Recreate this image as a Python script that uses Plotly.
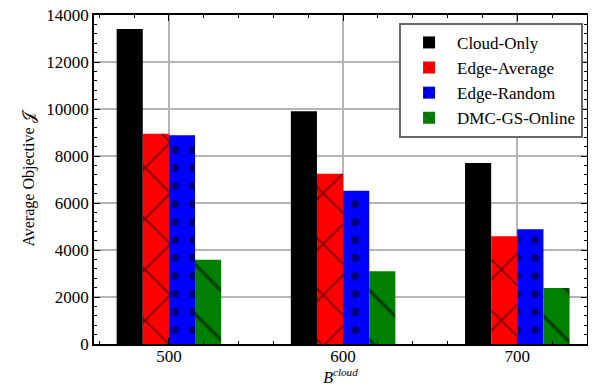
import plotly.graph_objects as go

categories = [500, 600, 700]
series_names = ["Cloud-Only", "Edge-Average", "Edge-Random", "DMC-GS-Online"]
cloud_only = [13400, 9900, 7700]
edge_average = [8950, 7250, 4580]
edge_random = [8880, 6520, 4880]
dmc_gs_online = [3580, 3100, 2380]
y_ticks = [0, 2000, 4000, 6000, 8000, 10000, 12000, 14000]

FONT = "Liberation Serif"

styles = [
    dict(color="#000000", pattern=dict(shape="")),
    dict(color="#ff0000", pattern=dict(shape="x", fgcolor="black", size=36, solidity=0.1)),
    dict(color="#0000ff", pattern=dict(shape=".", fgcolor="black", size=18, solidity=0.16)),
    dict(color="#008000", pattern=dict(shape="\\", fgcolor="black", size=35, solidity=0.1)),
]

fig = go.Figure()
for name, vals, st in zip(series_names, [cloud_only, edge_average, edge_random, dmc_gs_online], styles):
    fig.add_trace(go.Bar(
        x=categories, y=vals, name=name,
        marker=dict(color=st["color"], pattern=st["pattern"], line=dict(width=0)),
    ))

axis_common = dict(
    showline=True, linecolor="black", linewidth=1.5, mirror="ticks",
    ticks="inside", ticklen=6, tickcolor="black", tickwidth=1.2,
    showgrid=True, gridcolor="#b4b4b4", gridwidth=1.5, zeroline=False,
    tickfont=dict(family=FONT, size=17, color="black"),
    automargin=False, ticklabeloverflow="allow",
)

# the page body adds an 8px offset, margins compensate for it
fig.update_layout(
    width=596, height=386,
    margin=dict(l=86, r=17, t=7, b=50),
    paper_bgcolor="white", plot_bgcolor="white",
    barmode="group", bargap=0.4, bargroupgap=0,
    font=dict(family=FONT, size=17, color="black"),
    xaxis=dict(
        range=[457, 740], tickvals=categories, ticktext=[str(c) for c in categories],
        minor=dict(dtick=20, ticks="inside", ticklen=3, tickcolor="black", showgrid=False),
        ticklabelstandoff=-4,
        title=dict(text="<i>B</i><sup><i>cloud</i></sup>", standoff=0, font=dict(family=FONT, size=16)),
        **axis_common,
    ),
    yaxis=dict(
        range=[0, 14000], tickvals=y_ticks, ticktext=[str(t) for t in y_ticks],
        minor=dict(dtick=400, ticks="inside", ticklen=3, tickcolor="black", showgrid=False),
        title=dict(text="Average Objective 𝒥", standoff=8, font=dict(family=FONT, size=16)),
        **axis_common,
    ),
    legend=dict(
        x=0.992, y=0.976, xanchor="right", yanchor="top",
        bgcolor="white", bordercolor="#666666", borderwidth=2,
        font=dict(family=FONT, size=17), tracegroupgap=0, itemwidth=46,
    ),
)

fig.write_html("out.html")
